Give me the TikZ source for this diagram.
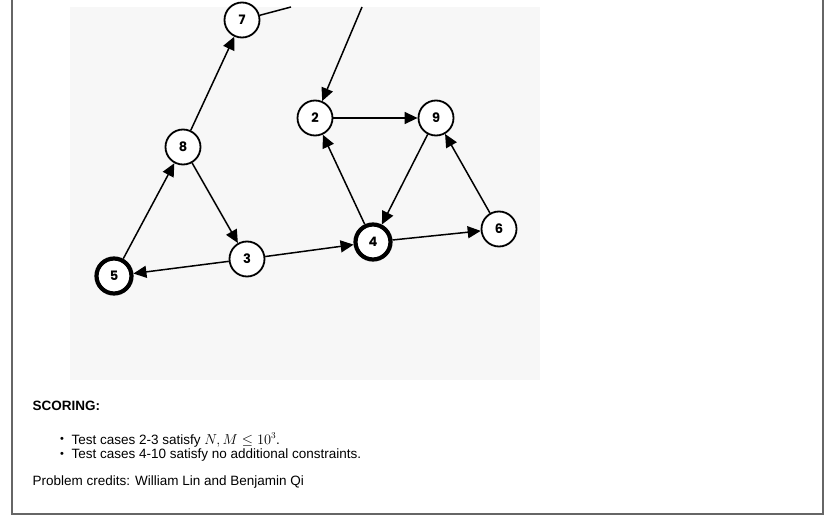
\documentclass[tikz,border=0pt]{standalone}
\usepackage{fontspec}
\setmainfont{Liberation Sans}
\newfontfamily\vertexfont{Poppins}
\usetikzlibrary{arrows.meta}
\definecolor{panel}{HTML}{F7F7F7}
\definecolor{frame}{HTML}{666666}
\begin{document}
\begin{tikzpicture}[x=1pt,y=-1pt,font=\fontsize{13.5}{15}\selectfont,
  vertex/.style={circle,draw,fill=white,line width=1.8pt,minimum size=35pt,inner sep=0pt,
    font=\vertexfont\bfseries\fontsize{13}{13}\selectfont},
  source/.style={vertex,line width=4.2pt},
  edge/.style={line width=1.5pt,-{Triangle[length=13pt,width=12pt]}}]
  \useasboundingbox (0,0) rectangle (838,530);
  \fill[panel] (70,7) rectangle (540,380);
  \draw[frame,line width=1.2pt] (12,0) -- (12,514) -- (823,514) -- (823,0);
  \node[vertex] (v7) at (242,20) {7};
  \node[vertex] (v2) at (315,118) {2};
  \node[vertex] (v9) at (436,118) {9};
  \node[vertex] (v8) at (183,147) {8};
  \node[vertex] (v3) at (247,259) {3};
  \node[source] (v4) at (373,242) {4};
  \node[vertex] (v6) at (499,229) {6};
  \node[source] (v5) at (114,276) {5};
  \coordinate (out7) at (291,7);
  \coordinate (in2) at (362,7);
  \foreach \tail/\head in {5/8,8/7,8/3,3/5,3/4,4/2,4/6,9/4,6/9,2/9}
    \draw[edge] (v\tail) -- (v\head);
  \draw[line width=1.5pt] (v7) -- (out7);
  \draw[edge] (in2) -- (v2);
  \node[anchor=west,font=\bfseries\fontsize{13.5}{15}\selectfont] (scoring) at (29,406) {SCORING:};
  \node[font=\fontsize{11}{12}\selectfont] (dot1) at (62,440) {\textbullet};
  \node[anchor=west] (case1) at (68,440) {Test cases 2-3 satisfy $N, M \le 10^3$.};
  \node[font=\fontsize{11}{12}\selectfont] (dot2) at (62,455) {\textbullet};
  \node[anchor=west] (case2) at (68,455) {Test cases 4-10 satisfy no additional constraints.};
  \node[anchor=west] (credits) at (29,482) {Problem credits: William Lin and Benjamin Qi};
\end{tikzpicture}
\end{document}
